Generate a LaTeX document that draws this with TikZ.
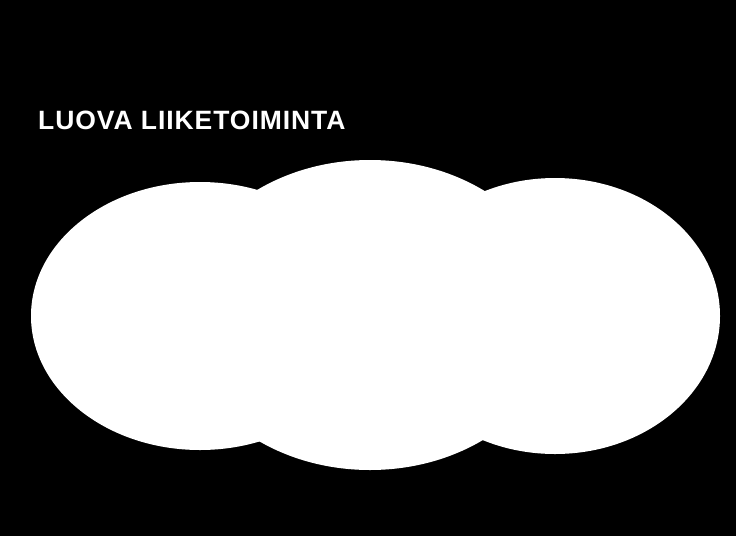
\documentclass[tikz,border=0pt]{standalone}
\usepackage{fontspec}
\setmainfont{Liberation Sans}

\begin{document}
\begin{tikzpicture}[x=1pt,y=-1pt]
  \tikzset{blob/.style={fill=white}}
  \fill[black] (0,0) rectangle (736,536);

  \node[anchor=base west,inner sep=0,text=white] (title) at (38,129)
    {\fontsize{26.5}{30}\selectfont\bfseries\addfontfeature{LetterSpace=3.5}LUOVA LIIKETOIMINTA};

  \fill[blob] (200,316) ellipse [x radius=169,y radius=134];
  \fill[blob] (555,316) ellipse [x radius=165,y radius=138];
  \fill[blob] (370,315) ellipse [x radius=191,y radius=155];

\end{tikzpicture}
\end{document}
